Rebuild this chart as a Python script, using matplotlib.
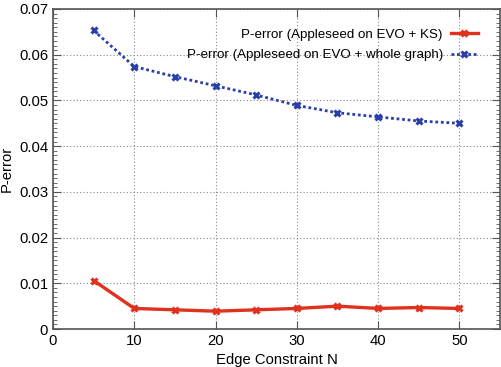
import matplotlib
matplotlib.use("Agg")
import matplotlib.pyplot as plt
from matplotlib.ticker import MultipleLocator

x = [5, 10, 15, 20, 25, 30, 35, 40, 45, 50]
ks = [0.0106, 0.0045, 0.0042, 0.0039, 0.0042, 0.0045, 0.0050, 0.0045, 0.0047, 0.0045]
whole = [0.0653, 0.0574, 0.0552, 0.0532, 0.0512, 0.0489, 0.0473, 0.0464, 0.0455, 0.0450]
labels = ["P-error (Appleseed on EVO + KS)", "P-error (Appleseed on EVO + whole graph)"]

plt.rcParams['font.family'] = ['Liberation Sans', 'DejaVu Sans']
fig = plt.figure(figsize=(5.02, 3.67), dpi=100)
ax = fig.add_axes([0.1056, 0.1035, 0.8904, 0.872])

ax.plot(x, ks, color='#e0301e', lw=2.4, marker='x', ms=5, mew=2.2, label=labels[0])
ax.plot(x, whole, color='#2a3fa8', lw=2.0, ls=(0, (1, 1)), marker='x', ms=5, mew=2.2, label=labels[1])

ax.set_xlim(0, 55)
ax.set_ylim(0, 0.07)
ax.set_xticks([0, 10, 20, 30, 40, 50])
ax.set_yticks([0, 0.01, 0.02, 0.03, 0.04, 0.05, 0.06, 0.07])
ax.set_yticklabels(['0', '0.01', '0.02', '0.03', '0.04', '0.05', '0.06', '0.07'])
ax.yaxis.set_minor_locator(MultipleLocator(0.001))
ax.tick_params(which='both', direction='in', top=True, right=True, labelsize=10.7, color='#555555')
ax.tick_params(which='major', length=6)
ax.tick_params(which='minor', length=3)
ax.grid(True, which='major', ls=(0, (1, 2)), color='#888888', lw=0.8)
for s in ax.spines.values():
    s.set_color('#555555')
    s.set_linewidth(1.2)

ax.set_xlabel('Edge Constraint N', fontsize=10.7)
ax.set_ylabel('P-error', fontsize=10.7)
ax.legend(loc='upper right', bbox_to_anchor=(0.95, 0.938), frameon=False, markerfirst=False,
          fontsize=9.6, handlelength=2.0, handletextpad=0.6, borderaxespad=0, borderpad=0,
          labelspacing=0.6)

fig.savefig('out.png', dpi=100)
